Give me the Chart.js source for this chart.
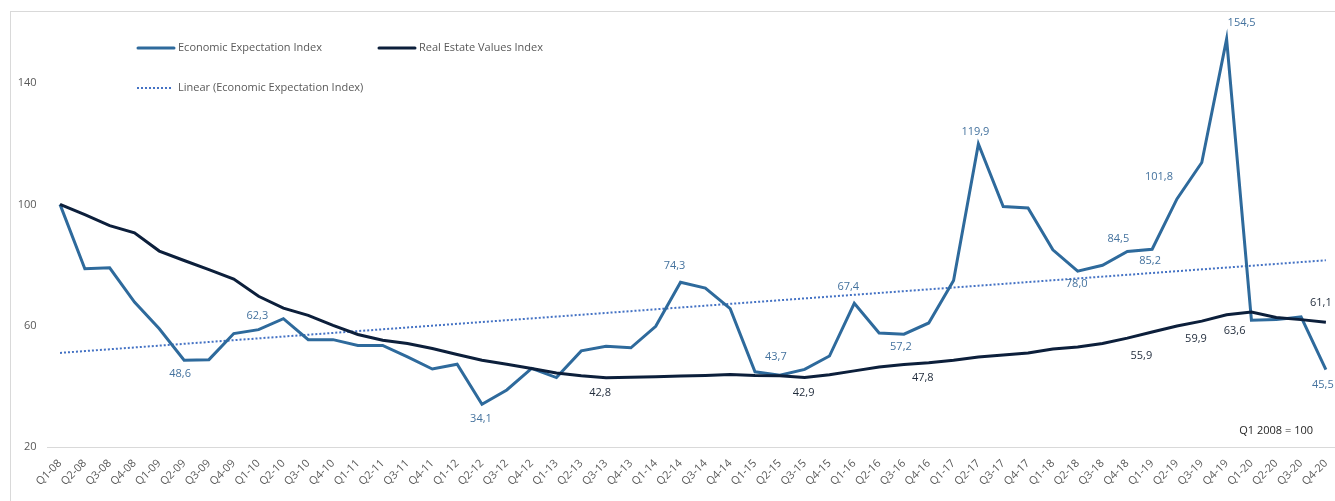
<!DOCTYPE html>
<html>
<head>
<meta charset="utf-8">
<title>Economic Expectation vs Real Estate Values</title>
<script src="https://cdn.jsdelivr.net/npm/chart.js@4.4.1/dist/chart.umd.min.js"></script>
<style>
  html, body { margin: 0; padding: 0; background: #fff; overflow: hidden; }
  #wrap { position: relative; width: 1335px; height: 501px; overflow: hidden; }
  #frame { position: absolute; left: 10px; top: 11px; width: 1400px; height: 600px; border: 1px solid #d9d9d9; }
  #myChart { position: absolute; left: 0; top: 0; }
</style>
</head>
<body>
<div id="wrap">
  <div id="frame"></div>
  <canvas id="myChart" width="1350" height="501"></canvas>
</div>
<script>
// Quarters Q1-08 .. Q4-20
const quarters = [
  'Q1-08','Q2-08','Q3-08','Q4-08','Q1-09','Q2-09','Q3-09','Q4-09',
  'Q1-10','Q2-10','Q3-10','Q4-10','Q1-11','Q2-11','Q3-11','Q4-11',
  'Q1-12','Q2-12','Q3-12','Q4-12','Q1-13','Q2-13','Q3-13','Q4-13',
  'Q1-14','Q2-14','Q3-14','Q4-14','Q1-15','Q2-15','Q3-15','Q4-15',
  'Q1-16','Q2-16','Q3-16','Q4-16','Q1-17','Q2-17','Q3-17','Q4-17',
  'Q1-18','Q2-18','Q3-18','Q4-18','Q1-19','Q2-19','Q3-19','Q4-19',
  'Q1-20','Q2-20','Q3-20','Q4-20'
];

// Economic Expectation Index (Q1 2008 = 100)
const econValues = [
  100, 78.8, 79.1, 67.8, 59.0, 48.6, 48.8, 57.4,
  58.7, 62.3, 55.4, 55.4, 53.5, 53.5, 49.7, 45.7,
  47.3, 34.1, 38.8, 45.9, 42.9, 51.7, 53.2, 52.7,
  59.8, 74.3, 72.4, 65.6, 44.8, 43.7, 45.6, 50.0,
  67.4, 57.6, 57.2, 60.9, 74.9, 119.9, 99.3, 98.8,
  85.0, 78.0, 79.9, 84.5, 85.2, 101.8, 113.8, 154.5,
  61.8, 62.0, 62.9, 45.5
];

// Real Estate Values Index (Q1 2008 = 100)
const realEstateValues = [
  100, 96.6, 93.0, 90.6, 84.6, 81.5, 78.5, 75.4,
  69.7, 65.8, 63.4, 60.1, 57.1, 55.2, 54.1, 52.5,
  50.5, 48.6, 47.3, 45.9, 44.4, 43.5, 42.8, 43.0,
  43.2, 43.4, 43.6, 43.9, 43.6, 43.5, 42.9, 43.8,
  45.1, 46.4, 47.2, 47.8, 48.6, 49.7, 50.3, 51.0,
  52.3, 53.0, 54.1, 55.9, 57.9, 59.9, 61.5, 63.6,
  64.5, 62.7, 62.0, 61.1
];

const yTicks = [20, 60, 100, 140];

// least-squares trendline of the economic expectation series
function linearFit(values) {
  const n = values.length;
  let sx = 0, sy = 0, sxy = 0, sxx = 0;
  values.forEach((v, i) => { sx += i; sy += v; sxy += i * v; sxx += i * i; });
  const b = (n * sxy - sx * sy) / (n * sxx - sx * sx);
  const a = (sy - b * sx) / n;
  return values.map((_, i) => a + b * i);
}

const BLUE = '#2e6a9c';
const NAVY = '#0c1f3b';
const TREND = '#4472c4';
const FONT = "'Open Sans', 'DejaVu Sans', sans-serif";

// which points carry a value label, with the label offset from the point [index, dx, dy]
const econLabelAt = [
  [5, -4, 14], [9, -26, -3], [17, -1, 15], [25, -6, -16], [29, -4, -18],
  [32, -6, -16], [34, -3, 13], [37, -3, -12], [41, -1, 13], [43, -9, -13],
  [44, -2, 12], [45, -18, -22], [47, 15, -16], [51, -3, 15]
];
const realEstateLabelAt = [
  [22, -6, 15], [30, -1, 15], [35, -6, 15], [43, 14, 18], [45, 19, 13],
  [47, 8, 16], [51, -5, -19]
];

function fmt(v) {
  return v.toFixed(1).replace('.', ',');
}

const valueLabels = {
  id: 'valueLabels',
  afterDatasetsDraw(chart) {
    const ctx = chart.ctx;
    ctx.save();
    ctx.font = '11px ' + FONT;
    ctx.textAlign = 'center';
    ctx.textBaseline = 'middle';
    const draw = (dsIndex, list, color) => {
      const meta = chart.getDatasetMeta(dsIndex);
      const data = chart.data.datasets[dsIndex].data;
      ctx.fillStyle = color;
      list.forEach(([i, dx, dy]) => {
        const pt = meta.data[i];
        ctx.fillText(fmt(data[i]), pt.x + dx, pt.y + dy);
      });
    };
    draw(0, econLabelAt, '#44729e');
    draw(1, realEstateLabelAt, '#1f2a3a');
    ctx.restore();
  }
};

// legend in two rows plus the base note in the lower right
const legendAndNote = {
  id: 'legendAndNote',
  afterDraw(chart) {
    const ctx = chart.ctx;
    ctx.save();
    ctx.font = '11px ' + FONT;
    ctx.textBaseline = 'middle';
    ctx.textAlign = 'left';
    ctx.fillStyle = '#595959';
    ctx.lineCap = 'round';

    ctx.strokeStyle = BLUE;
    ctx.lineWidth = 3;
    ctx.beginPath(); ctx.moveTo(138, 48); ctx.lineTo(174, 48); ctx.stroke();
    ctx.fillText('Economic Expectation Index', 178, 48);

    ctx.strokeStyle = NAVY;
    ctx.beginPath(); ctx.moveTo(379, 48); ctx.lineTo(415, 48); ctx.stroke();
    ctx.fillText('Real Estate Values Index', 419, 48);

    ctx.lineCap = 'butt';
    ctx.strokeStyle = TREND;
    ctx.lineWidth = 2;
    ctx.setLineDash([2, 2]);
    ctx.beginPath(); ctx.moveTo(137, 88); ctx.lineTo(173, 88); ctx.stroke();
    ctx.setLineDash([]);
    ctx.fillText('Linear (Economic Expectation Index)', 178, 88);

    ctx.fillStyle = '#262626';
    ctx.textAlign = 'right';
    ctx.fillText('Q1 2008 = 100', 1313, 431);
    ctx.restore();
  }
};

function drawChart() {
  const ctx = document.getElementById('myChart').getContext('2d');
  new Chart(ctx, {
    type: 'line',
    data: {
      labels: quarters,
      datasets: [{
        label: 'Economic Expectation Index',
        data: econValues,
        borderColor: BLUE,
        borderWidth: 3,
        pointRadius: 0,
        tension: 0,
        fill: false,
        order: 1
      }, {
        label: 'Real Estate Values Index',
        data: realEstateValues,
        borderColor: NAVY,
        borderWidth: 3,
        pointRadius: 0,
        tension: 0,
        fill: false,
        order: 0
      }, {
        label: 'Linear (Economic Expectation Index)',
        data: linearFit(econValues),
        borderColor: TREND,
        borderWidth: 2,
        borderDash: [2, 2],
        pointRadius: 0,
        fill: false,
        order: 2
      }]
    },
    options: {
      responsive: false,
      animation: false,
      devicePixelRatio: 1,
      layout: { padding: { left: 0, right: 11.7, top: 22.4, bottom: 0 } },
      plugins: {
        legend: { display: false },
        tooltip: { enabled: false }
      },
      scales: {
        x: {
          offset: true,
          grid: { display: false, drawTicks: false },
          border: { display: true, color: '#d9d9d9', width: 1 },
          ticks: {
            autoSkip: false,
            maxRotation: 45,
            minRotation: 45,
            padding: 10,
            color: '#595959',
            font: { family: FONT, size: 11 }
          },
          afterFit(scale) { scale.height = 54; }
        },
        y: {
          min: 20,
          max: 160,
          grid: { display: false, drawTicks: false },
          border: { display: false },
          ticks: {
            padding: 11,
            color: '#595959',
            font: { family: FONT, size: 11 }
          },
          afterBuildTicks(scale) { scale.ticks = yTicks.map(v => ({ value: v })); },
          afterFit(scale) { scale.width = 47.6; }
        }
      }
    },
    plugins: [valueLabels, legendAndNote]
  });
}

drawChart();
</script>
</body>
</html>
